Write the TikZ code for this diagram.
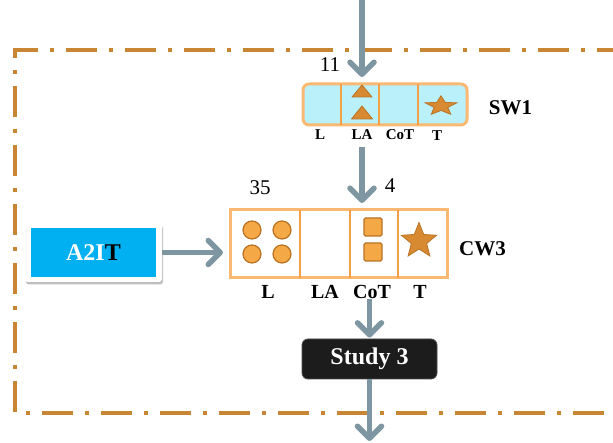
\documentclass[tikz,border=0pt]{standalone}
\usepackage{fontspec}
\setmainfont{Liberation Serif}
\usetikzlibrary{arrows.meta,shapes.geometric,shadows}
\definecolor{framec}{RGB}{200,133,52}
\definecolor{arr}{RGB}{125,150,162}
\definecolor{boxedge}{RGB}{250,185,115}
\definecolor{divider}{RGB}{245,160,70}
\definecolor{swfill}{RGB}{185,240,250}
\definecolor{shapefill}{RGB}{215,138,50}
\definecolor{shapeedge}{RGB}{185,115,35}
\definecolor{dotfill}{RGB}{245,168,70}
\definecolor{a2itblue}{RGB}{0,176,240}
\definecolor{studyfill}{RGB}{28,28,28}
\begin{document}
\begin{tikzpicture}[x=1pt,y=-1pt,
  conn/.style={draw=arr, line width=5.5pt, -{Straight Barb[length=12pt,width=24pt,round]}},
  frameline/.style={draw=framec, line width=3.5pt, dash pattern=on 31pt off 12pt on 4pt off 12pt},
  swbox/.style={draw=boxedge, line width=3pt, fill=swfill, rounded corners=6pt, minimum width=164pt, minimum height=41pt, inner sep=0pt},
  cwbox/.style={draw=boxedge, line width=3pt, fill=white, minimum width=217pt, minimum height=68pt, inner sep=0pt},
  divline/.style={draw=divider, line width=2.5pt},
  tri/.style={fill=shapefill, draw=shapeedge, line width=0.8pt, line join=round},
  starsty/.style={star, star points=5, star point ratio=2.3, inner sep=0pt, fill=shapefill, draw=shapeedge, line width=0.8pt},
  dot/.style={circle, minimum size=18pt, inner sep=0pt, fill=dotfill, draw=shapeedge, line width=1.2pt},
  sq/.style={rectangle, rounded corners=1.5pt, minimum size=18pt, inner sep=0pt, fill=dotfill, draw=shapeedge, line width=1.2pt},
  smlab/.style={font=\fontsize{15}{15}\selectfont\bfseries, inner sep=0pt},
  biglab/.style={font=\fontsize{20}{20}\selectfont\bfseries, inner sep=0pt},
  numlab/.style={font=\fontsize{21}{21}\selectfont, inner sep=0pt},
  namelab/.style={font=\fontsize{21}{21}\selectfont\bfseries, inner sep=0pt},
]
\useasboundingbox (0,0) rectangle (613,443);
% frame
\draw[frameline] (15,58) -- (15,50) -- (640,50);
\draw[frameline, dash phase=31pt] (15,58) -- (15,413) -- (640,413);

% SW1
\node[swbox] (sw) at (385,104.5) {};
\draw[divline] (341,84) -- (341,125) (379,84) -- (379,125) (418,84) -- (418,125);
\draw[tri] (352,97) -- (362,85) -- (372,97) -- cycle;
\draw[tri] (351.5,119) -- (362,106) -- (372.5,119) -- cycle;
\begin{scope}[shift={(441,106)}, yscale=0.62]
  \node[starsty, minimum size=33pt, transform shape] (swstar) at (0,0) {};
\end{scope}
\node[smlab] (swLlab) at (320,135) {L};
\node[smlab] (swLAlab) at (362,135) {LA};
\node[smlab] (swCoTlab) at (400,135) {CoT};
\node[smlab] (swTlab) at (437,136) {T};
\node[numlab] (n11) at (330,64.5) {11};
\node[namelab] (swname) at (510.5,107.5) {SW1};

% CW3
\node[cwbox] (cw) at (338.5,244) {};
\draw[divline] (300,210) -- (300,278) (350,210) -- (350,278) (398,210) -- (398,278);
\node[dot] (d1) at (252,230) {};
\node[dot] (d2) at (282,230) {};
\node[dot] (d3) at (252,254) {};
\node[dot] (d4) at (282,254) {};
\node[sq] (s1) at (373,227) {};
\node[sq] (s2) at (373,252) {};
\node[starsty, minimum size=37pt] (cwstar) at (419,241) {};
\node[biglab] (cwLlab) at (268,291.5) {L};
\node[biglab] (cwLAlab) at (325,291.5) {LA};
\node[biglab] (cwCoTlab) at (372,291.5) {CoT};
\node[biglab] (cwTlab) at (420,291.5) {T};
\node[numlab] (n35) at (260,187.5) {35};
\node[numlab] (n4) at (390,186) {4};
\node[namelab] (cwname) at (482.5,248.5) {CW3};

% A2IT
\node[fill=white, rounded corners=3pt, minimum width=137pt, minimum height=59pt, inner sep=0pt,
      drop shadow={shadow xshift=1pt, shadow yshift=-2.5pt, fill=black, opacity=0.25}] (a2it) at (93.5,252.5) {};
\node[fill=a2itblue, minimum width=125pt, minimum height=49pt, inner sep=0pt,
      font=\fontsize{24}{24}\selectfont\bfseries] (a2itin) at (93.5,252.5) {\textcolor{white}{A2I}\textcolor{black}{T}};

% Study 3
\node[fill=studyfill, draw=black!70, line width=0.8pt, rounded corners=6pt, minimum width=135pt, minimum height=40pt,
      inner sep=0pt, text=white, font=\fontsize{24}{24}\selectfont\bfseries] (study) at (369.5,359) {Study 3};

% connectors
\coordinate (in) at (362,-5);
\coordinate (out) at (368,441);
\draw[conn, shorten >=5.5pt] (in) -- (in |- sw.north);
\draw[conn, shorten <=7pt, shorten >=5.5pt] (swLAlab.south) -- (swLAlab.south |- cw.north);
\draw[conn, shorten >=5.5pt] (a2it.east) -- (a2it.east -| cw.west);
\draw[conn, shorten <=1pt, shorten >=1pt] (study.north |- cwCoTlab.south) -- (study.north);
\draw[conn] (study.south) -- (study.south |- out);
\end{tikzpicture}
\end{document}
